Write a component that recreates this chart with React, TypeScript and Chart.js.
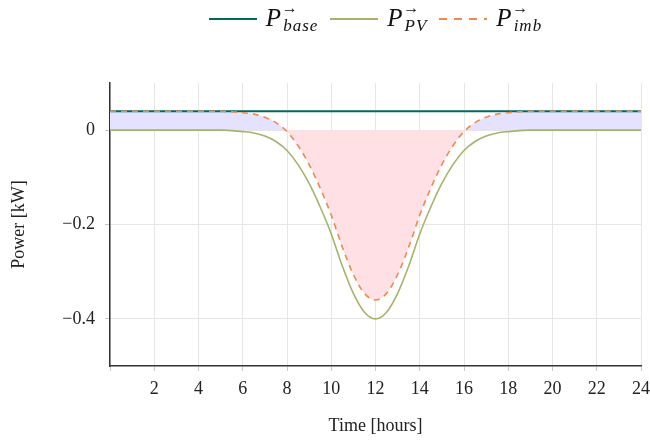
import React, { useEffect, useRef } from 'react';
import { Chart, registerables } from 'chart.js';
Chart.register(...registerables);

const hours = [0, 0.5, 1, 1.5, 2, 2.5, 3, 3.5, 4, 4.5, 5, 5.5, 6, 6.5, 7, 7.5, 8, 8.5, 9, 9.5, 10, 10.5, 11, 11.5, 12,
  12.5, 13, 13.5, 14, 14.5, 15, 15.5, 16, 16.5, 17, 17.5, 18, 18.5, 19, 19.5, 20, 20.5, 21, 21.5, 22, 22.5, 23, 23.5, 24];

const pvValues = [0, 0, 0, 0, 0, 0, 0, 0, 0, 0, 0, -0.001, -0.003, -0.006, -0.0125, -0.024, -0.043, -0.073, -0.113, -0.163, -0.22, -0.288, -0.346, -0.386, -0.4,
  -0.386, -0.346, -0.288, -0.22, -0.163, -0.113, -0.073, -0.043, -0.024, -0.0125, -0.006, -0.003, -0.001, 0, 0, 0, 0, 0, 0, 0, 0, 0, 0, 0];

const imbValues = [0.04, 0.04, 0.04, 0.04, 0.04, 0.04, 0.04, 0.04, 0.04, 0.04, 0.04, 0.039, 0.037, 0.034, 0.0275, 0.016, -0.003, -0.033, -0.073, -0.123, -0.18, -0.248, -0.306, -0.346, -0.36,
  -0.346, -0.306, -0.248, -0.18, -0.123, -0.073, -0.033, -0.003, 0.016, 0.0275, 0.034, 0.037, 0.039, 0.04, 0.04, 0.04, 0.04, 0.04, 0.04, 0.04, 0.04, 0.04, 0.04, 0.04];

const baseHours = [0, 24];
const baseValues = [0.04, 0.04];

const yTicks = [-0.4, -0.2, 0];

const serif = "'Liberation Serif', 'DejaVu Serif', serif";

function LegendLabel({ sub }: { sub: string }) {
  return (
    <span style={{ position: 'relative', fontFamily: serif, fontStyle: 'italic', fontSize: 25, color: '#111', display: 'inline-block', lineHeight: '28px' }}>
      P
      <span style={{ position: 'absolute', left: 16, top: -10, fontSize: 16, fontStyle: 'normal', fontWeight: 'bold' }}>→</span>
      <sub style={{ fontSize: 17, verticalAlign: 'baseline', position: 'relative', top: 5, marginLeft: 2, letterSpacing: 1 }}>{sub}</sub>
    </span>
  );
}

export default function App() {
  const ref = useRef<HTMLCanvasElement | null>(null);
  useEffect(() => {
    if (!ref.current) return;
    const chart = new Chart(ref.current, {
      type: 'line',
      data: {
        datasets: [
          {
            label: 'P_imb',
            data: hours.map((h, i) => ({ x: h, y: imbValues[i] })),
            borderColor: '#EE8A4E',
            borderWidth: 1.6,
            borderDash: [6, 5],
            pointRadius: 0,
            cubicInterpolationMode: 'monotone',
            fill: { value: 0, above: 'rgba(228,226,255,1)', below: 'rgba(255,224,228,1)' } as any,
            order: 0,
          },
          {
            label: 'P_base',
            data: baseHours.map((h, i) => ({ x: h, y: baseValues[i] })),
            borderColor: '#00695C',
            borderWidth: 2,
            pointRadius: 0,
            fill: false,
            order: 1,
          },
          {
            label: 'P_PV',
            data: hours.map((h, i) => ({ x: h, y: pvValues[i] })),
            borderColor: '#A3B56A',
            borderWidth: 1.6,
            pointRadius: 0,
            cubicInterpolationMode: 'monotone',
            fill: false,
            order: 2,
          },
        ],
      },
      options: {
        responsive: false,
        animation: false,
        layout: { padding: { top: 83, right: 9, left: 0, bottom: 0 } },
        plugins: {
          legend: { display: false },
          tooltip: { enabled: false },
          filler: { drawTime: 'beforeDatasetsDraw' } as any,
        },
        scales: {
          x: {
            type: 'linear',
            min: 0,
            max: 24,
            ticks: {
              stepSize: 2,
              callback: (v: any) => (v === 0 ? '' : String(v)),
              font: { family: serif, size: 18 },
              color: '#222',
              maxRotation: 0,
              padding: 7,
            },
            grid: { color: '#e6e6e6', tickLength: 5, tickColor: '#c8c8c8' },
            border: { color: '#333', width: 1.5 },
            title: { display: true, text: 'Time [hours]', font: { family: serif, size: 18 }, color: '#222', padding: { top: 6, bottom: 4 } },
            afterFit: (s: any) => { s.height = 75; s.paddingRight = 0; s.paddingLeft = 0; },
          },
          y: {
            min: -0.5,
            max: 0.1,
            afterBuildTicks: (s: any) => { s.ticks = yTicks.map((v) => ({ value: v })); },
            ticks: {
              callback: (v: any) => (v === 0 ? '0' : '\u2212' + Math.abs(v).toFixed(1)),
              font: { family: serif, size: 18 },
              color: '#222',
              padding: 10,
            },
            grid: { color: '#e6e6e6', tickLength: 5, tickColor: '#c8c8c8' },
            border: { color: '#333', width: 1.5 },
            title: { display: true, text: 'Power [kW]', font: { family: serif, size: 18 }, color: '#222', padding: { top: 8, bottom: 6 } },
            afterFit: (s: any) => { s.width = 110; s.paddingTop = 0; s.paddingBottom = 0; },
          },
        },
      },
    });
    return () => chart.destroy();
  }, []);

  const sw = (color: string, dashed = false) => (
    <span
      style={{
        display: 'inline-block',
        width: 48,
        height: 2,
        background: dashed
          ? `repeating-linear-gradient(90deg, ${color} 0 8px, transparent 8px 15px)`
          : color,
        margin: '0 9px 0 0',
        verticalAlign: 'middle',
      }}
    />
  );

  return (
    <div style={{ position: 'fixed', left: 0, top: 0, width: 650, height: 441, background: '#fff' }}>
      <canvas ref={ref} width={650} height={441} style={{ position: 'absolute', left: 0, top: 0, width: 650, height: 441 }} />
      <div style={{ position: 'absolute', left: 110, width: 531, top: 2, display: 'flex', justifyContent: 'center', alignItems: 'center', gap: 12, height: 34 }}>
        <span style={{ display: 'flex', alignItems: 'center' }}>{sw('#00695C')}<LegendLabel sub="base" /></span>
        <span style={{ display: 'flex', alignItems: 'center' }}>{sw('#A3B56A')}<LegendLabel sub="PV" /></span>
        <span style={{ display: 'flex', alignItems: 'center' }}>{sw('#EE8A4E', true)}<LegendLabel sub="imb" /></span>
      </div>
    </div>
  );
}
